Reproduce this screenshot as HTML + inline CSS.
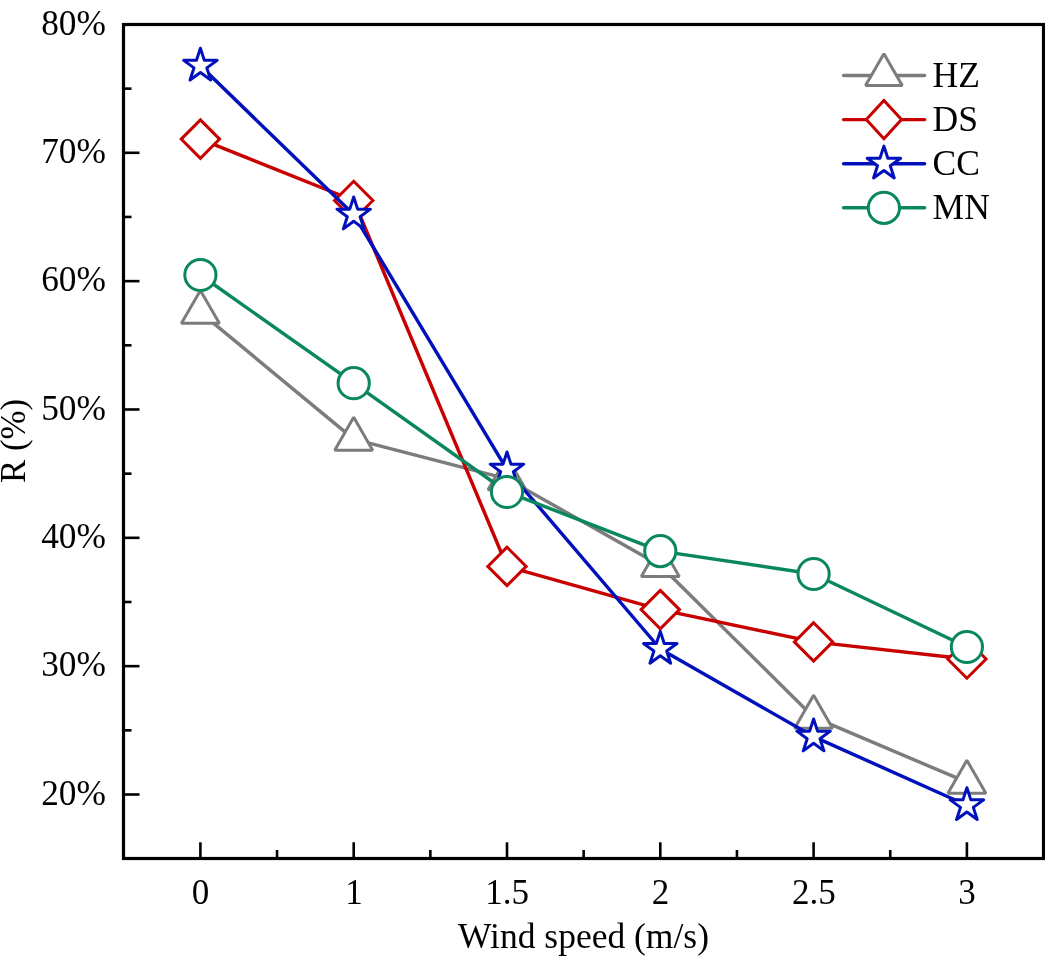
<!DOCTYPE html>
<html><head><meta charset="utf-8"><style>
html,body{margin:0;padding:0;background:#fff;}
svg{display:block;}
text{font-family:"Liberation Serif",serif;fill:#000;}
.t{opacity:0.999;will-change:transform;}
</style></head><body>
<svg width="1045" height="960" viewBox="0 0 1045 960">
<rect width="1045" height="960" fill="#fff"/>
<g stroke="#000" stroke-width="2.6"><line x1="123.5" y1="794.50" x2="139.5" y2="794.50"/><line x1="123.5" y1="666.16" x2="139.5" y2="666.16"/><line x1="123.5" y1="537.82" x2="139.5" y2="537.82"/><line x1="123.5" y1="409.48" x2="139.5" y2="409.48"/><line x1="123.5" y1="281.14" x2="139.5" y2="281.14"/><line x1="123.5" y1="152.80" x2="139.5" y2="152.80"/><line x1="123.5" y1="24.46" x2="139.5" y2="24.46"/><line x1="123.5" y1="730.33" x2="131.5" y2="730.33"/><line x1="123.5" y1="601.99" x2="131.5" y2="601.99"/><line x1="123.5" y1="473.65" x2="131.5" y2="473.65"/><line x1="123.5" y1="345.31" x2="131.5" y2="345.31"/><line x1="123.5" y1="216.97" x2="131.5" y2="216.97"/><line x1="123.5" y1="88.63" x2="131.5" y2="88.63"/><line x1="200.40" y1="858.5" x2="200.40" y2="842.3"/><line x1="353.70" y1="858.5" x2="353.70" y2="842.3"/><line x1="507.00" y1="858.5" x2="507.00" y2="842.3"/><line x1="660.30" y1="858.5" x2="660.30" y2="842.3"/><line x1="813.60" y1="858.5" x2="813.60" y2="842.3"/><line x1="966.90" y1="858.5" x2="966.90" y2="842.3"/><line x1="277.05" y1="858.5" x2="277.05" y2="850"/><line x1="430.35" y1="858.5" x2="430.35" y2="850"/><line x1="583.65" y1="858.5" x2="583.65" y2="850"/><line x1="736.95" y1="858.5" x2="736.95" y2="850"/><line x1="890.25" y1="858.5" x2="890.25" y2="850"/></g>
<rect x="123.5" y="24.5" width="920.0" height="834.0" fill="none" stroke="#000" stroke-width="3.2"/>
<polyline points="200.40,312.30 353.70,439.20 507.00,478.80 660.30,565.50 813.60,717.20 966.90,782.20" fill="none" stroke="#7C7C7C" stroke-width="3.45" stroke-linejoin="round"/>
<polygon points="200.40,290.40 219.37,323.25 181.43,323.25" fill="#fff" stroke="#7C7C7C" stroke-width="3.0" stroke-linejoin="bevel"/>
<polygon points="353.70,417.30 372.67,450.15 334.73,450.15" fill="#fff" stroke="#7C7C7C" stroke-width="3.0" stroke-linejoin="bevel"/>
<polygon points="507.00,456.90 525.97,489.75 488.03,489.75" fill="#fff" stroke="#7C7C7C" stroke-width="3.0" stroke-linejoin="bevel"/>
<polygon points="660.30,543.60 679.27,576.45 641.33,576.45" fill="#fff" stroke="#7C7C7C" stroke-width="3.0" stroke-linejoin="bevel"/>
<polygon points="813.60,695.30 832.57,728.15 794.63,728.15" fill="#fff" stroke="#7C7C7C" stroke-width="3.0" stroke-linejoin="bevel"/>
<polygon points="966.90,760.30 985.87,793.15 947.93,793.15" fill="#fff" stroke="#7C7C7C" stroke-width="3.0" stroke-linejoin="bevel"/>
<polyline points="200.40,139.10 353.70,200.50 507.00,566.40 660.30,609.60 813.60,641.90 966.90,659.00" fill="none" stroke="#C80000" stroke-width="3.45" stroke-linejoin="round"/>
<polygon points="200.40,119.90 219.60,139.10 200.40,158.30 181.20,139.10" fill="#fff" stroke="#C80000" stroke-width="3.0" stroke-linejoin="miter"/>
<polygon points="353.70,181.30 372.90,200.50 353.70,219.70 334.50,200.50" fill="#fff" stroke="#C80000" stroke-width="3.0" stroke-linejoin="miter"/>
<polygon points="507.00,547.20 526.20,566.40 507.00,585.60 487.80,566.40" fill="#fff" stroke="#C80000" stroke-width="3.0" stroke-linejoin="miter"/>
<polygon points="660.30,590.40 679.50,609.60 660.30,628.80 641.10,609.60" fill="#fff" stroke="#C80000" stroke-width="3.0" stroke-linejoin="miter"/>
<polygon points="813.60,622.70 832.80,641.90 813.60,661.10 794.40,641.90" fill="#fff" stroke="#C80000" stroke-width="3.0" stroke-linejoin="miter"/>
<polygon points="966.90,639.80 986.10,659.00 966.90,678.20 947.70,659.00" fill="#fff" stroke="#C80000" stroke-width="3.0" stroke-linejoin="miter"/>
<polyline points="200.40,65.80 353.70,214.60 507.00,469.60 660.30,649.00 813.60,736.60 966.90,805.30" fill="none" stroke="#0011BB" stroke-width="3.45" stroke-linejoin="round"/>
<polygon points="200.40,48.20 204.35,60.36 217.14,60.36 206.79,67.88 210.75,80.04 200.40,72.52 190.05,80.04 194.01,67.88 183.66,60.36 196.45,60.36" fill="#fff" stroke="#0011BB" stroke-width="3.0" stroke-linejoin="round"/>
<polygon points="353.70,197.00 357.65,209.16 370.44,209.16 360.09,216.68 364.05,228.84 353.70,221.32 343.35,228.84 347.31,216.68 336.96,209.16 349.75,209.16" fill="#fff" stroke="#0011BB" stroke-width="3.0" stroke-linejoin="round"/>
<polygon points="507.00,452.00 510.95,464.16 523.74,464.16 513.39,471.68 517.35,483.84 507.00,476.32 496.65,483.84 500.61,471.68 490.26,464.16 503.05,464.16" fill="#fff" stroke="#0011BB" stroke-width="3.0" stroke-linejoin="round"/>
<polygon points="660.30,631.40 664.25,643.56 677.04,643.56 666.69,651.08 670.65,663.24 660.30,655.72 649.95,663.24 653.91,651.08 643.56,643.56 656.35,643.56" fill="#fff" stroke="#0011BB" stroke-width="3.0" stroke-linejoin="round"/>
<polygon points="813.60,719.00 817.55,731.16 830.34,731.16 819.99,738.68 823.95,750.84 813.60,743.32 803.25,750.84 807.21,738.68 796.86,731.16 809.65,731.16" fill="#fff" stroke="#0011BB" stroke-width="3.0" stroke-linejoin="round"/>
<polygon points="966.90,787.70 970.85,799.86 983.64,799.86 973.29,807.38 977.25,819.54 966.90,812.02 956.55,819.54 960.51,807.38 950.16,799.86 962.95,799.86" fill="#fff" stroke="#0011BB" stroke-width="3.0" stroke-linejoin="round"/>
<polyline points="200.40,275.00 353.70,383.20 507.00,492.00 660.30,551.10 813.60,574.00 966.90,647.00" fill="none" stroke="#0B8760" stroke-width="3.45" stroke-linejoin="round"/>
<circle cx="200.40" cy="275.00" r="15.6" fill="#fff" stroke="#0B8760" stroke-width="3.0"/>
<circle cx="353.70" cy="383.20" r="15.6" fill="#fff" stroke="#0B8760" stroke-width="3.0"/>
<circle cx="507.00" cy="492.00" r="15.6" fill="#fff" stroke="#0B8760" stroke-width="3.0"/>
<circle cx="660.30" cy="551.10" r="15.6" fill="#fff" stroke="#0B8760" stroke-width="3.0"/>
<circle cx="813.60" cy="574.00" r="15.6" fill="#fff" stroke="#0B8760" stroke-width="3.0"/>
<circle cx="966.90" cy="647.00" r="15.6" fill="#fff" stroke="#0B8760" stroke-width="3.0"/>
<line x1="843.6" y1="75.5" x2="924.6" y2="75.5" stroke="#7C7C7C" stroke-width="3.45" stroke-linecap="round"/>
<polygon points="883.90,53.70 902.26,85.50 865.54,85.50" fill="#fff" stroke="#7C7C7C" stroke-width="3.0" stroke-linejoin="bevel"/>
<line x1="843.6" y1="119.6" x2="924.6" y2="119.6" stroke="#C80000" stroke-width="3.45" stroke-linecap="round"/>
<polygon points="883.90,100.50 901.50,119.60 883.90,138.70 866.30,119.60" fill="#fff" stroke="#C80000" stroke-width="3.0" stroke-linejoin="miter"/>
<line x1="843.6" y1="163.7" x2="924.6" y2="163.7" stroke="#0011BB" stroke-width="3.45" stroke-linecap="round"/>
<polygon points="883.90,146.10 887.85,158.26 900.64,158.26 890.29,165.78 894.25,177.94 883.90,170.42 873.55,177.94 877.51,165.78 867.16,158.26 879.95,158.26" fill="#fff" stroke="#0011BB" stroke-width="3.0" stroke-linejoin="round"/>
<line x1="843.6" y1="207.8" x2="924.6" y2="207.8" stroke="#0B8760" stroke-width="3.45" stroke-linecap="round"/>
<circle cx="883.90" cy="207.90" r="15.6" fill="#fff" stroke="#0B8760" stroke-width="3.0"/>
<g class="t"><text x="932.6" y="86.8" font-size="35.5">HZ</text><text x="932.6" y="131.0" font-size="35.5">DS</text><text x="932.6" y="174.6" font-size="35.5">CC</text><text x="932.6" y="219.0" font-size="35.5">MN</text><text x="105.9" y="804.60" font-size="35.3" text-anchor="end">20%</text><text x="105.9" y="676.26" font-size="35.3" text-anchor="end">30%</text><text x="105.9" y="547.92" font-size="35.3" text-anchor="end">40%</text><text x="105.9" y="419.58" font-size="35.3" text-anchor="end">50%</text><text x="105.9" y="291.24" font-size="35.3" text-anchor="end">60%</text><text x="105.9" y="162.90" font-size="35.3" text-anchor="end">70%</text><text x="105.9" y="34.56" font-size="35.3" text-anchor="end">80%</text><text x="200.60" y="903.6" font-size="35" text-anchor="middle">0</text><text x="353.90" y="903.6" font-size="35" text-anchor="middle">1</text><text x="507.20" y="903.6" font-size="35" text-anchor="middle">1.5</text><text x="660.50" y="903.6" font-size="35" text-anchor="middle">2</text><text x="813.80" y="903.6" font-size="35" text-anchor="middle">2.5</text><text x="967.10" y="903.6" font-size="35" text-anchor="middle">3</text><text x="583.5" y="948.3" font-size="35.5" text-anchor="middle">Wind speed (m/s)</text><text transform="translate(25,441) rotate(-90)" font-size="34.8" text-anchor="middle">R (%)</text></g>
</svg>
</body></html>
